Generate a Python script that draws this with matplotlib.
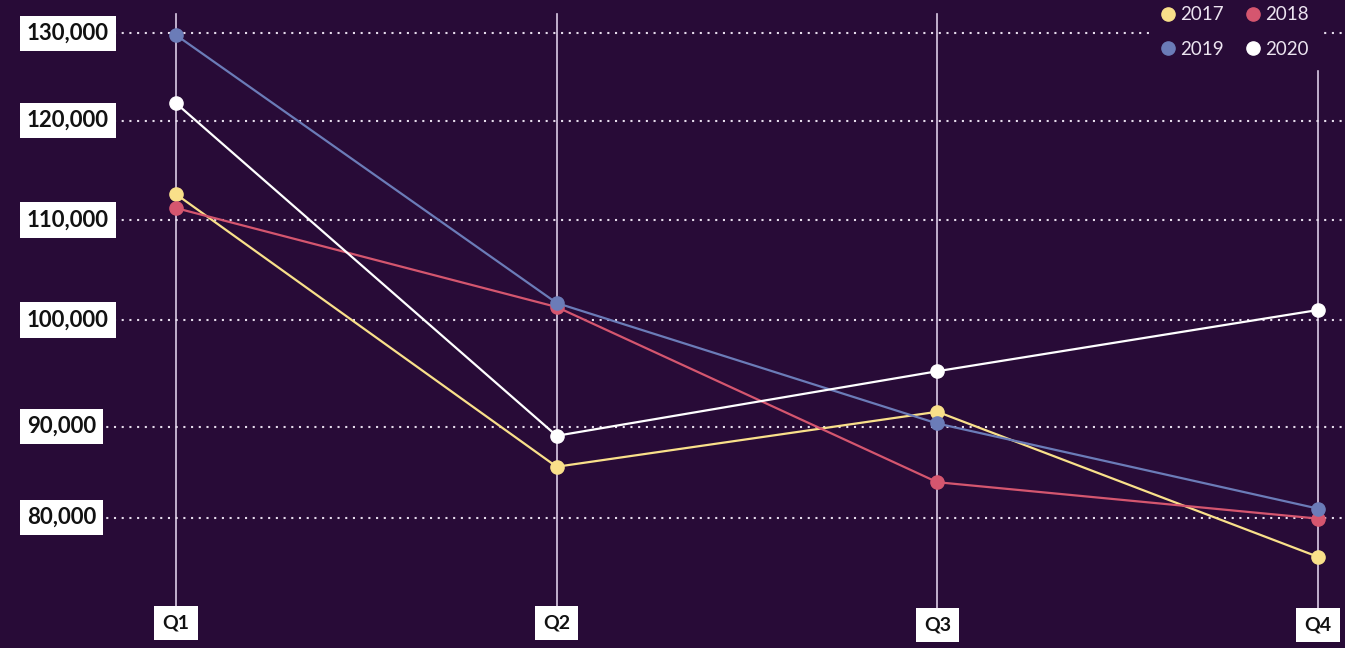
import numpy as np
import matplotlib
matplotlib.use('Agg')
import matplotlib.pyplot as plt
from matplotlib.lines import Line2D
from matplotlib.transforms import blended_transform_factory

# ---------------- data ----------------
quarters = ['Q1', 'Q2', 'Q3', 'Q4']
years = ['2017', '2018', '2019', '2020']
v2017 = [112600, 85600, 91400, 75700]
v2018 = [111200, 101300, 83900, 79900]
v2019 = [129800, 101700, 90300, 81000]
v2020 = [122000, 89000, 95200, 101000]
ytick_values = [80000, 90000, 100000, 110000, 120000, 130000]
ytick_labels = ['80,000', '90,000', '100,000', '110,000', '120,000', '130,000']

series = [v2017, v2018, v2019, v2020]
colors = ['#f9e08a', '#d5566f', '#6b7cb8', '#ffffff']
BG = '#280b37'
LINE = '#dccce6'

plt.rcParams['font.family'] = ['Lato', 'DejaVu Sans']

# the reference axis is not evenly spaced: piecewise-linear scale through the ticks
knot_v = np.array([60000, 80000, 90000, 100000, 110000, 120000, 130000, 150000], float)
knot_u = np.array([-51.7, 130.3, 221.3, 328.0, 428.0, 527.3, 614.7, 789.5])


def fwd(v):
    return np.interp(v, knot_v, knot_u)


def inv(u):
    return np.interp(u, knot_u, knot_v)


W, H = 1345, 648
fig = plt.figure(figsize=(W / 100, H / 100), dpi=100, facecolor=BG)
ax = fig.add_axes([0, 0, 1, 1], facecolor=BG)
ax.set_yscale('function', functions=(fwd, inv))
step = (1318 - 176) / 3
ax.set_xlim(-176 / step, 3 + (W - 1318) / step)
ax.set_ylim(inv(0), inv(H))
ax.set_axis_off()

x = np.arange(len(quarters))

# vertical quarter lines
vtop = [14, 14, 14, 66]
vbot = [607, 607, 609, 609]
for i in range(len(quarters)):
    ax.axvline(x[i], ymin=1 - vbot[i] / H, ymax=1 - vtop[i] / H, color=LINE, lw=1.2, zorder=1)

# dotted horizontal gridlines
for v in ytick_values:
    ax.axhline(v, xmin=60 / W, xmax=1, color='#e6dcec', lw=1.5, ls=(0, (1, 2.7)),
               dash_capstyle='butt', zorder=1)

# series
for vals, c in zip(series, colors):
    ax.plot(x, vals, color=c, lw=1.6, marker='o', ms=9.5, mfc=c, mec=c, zorder=3)

# y labels in white boxes
tr = blended_transform_factory(ax.transAxes, ax.transData)
for v, lab in zip(ytick_values, ytick_labels):
    ax.text(27 / W, v, lab, transform=tr, ha='left', va='center', fontsize=16,
            fontweight='bold', color='#111111', zorder=5,
            bbox=dict(boxstyle='square,pad=0.32', fc='white', ec='none'))

# quarter labels
qy = [623, 623, 625, 625]
trq = blended_transform_factory(ax.transData, ax.transAxes)
for i, q in enumerate(quarters):
    ax.text(x[i], 1 - qy[i] / H, q, transform=trq, ha='center', va='center', fontsize=14,
            fontweight='bold', color='#111111', zorder=5,
            bbox=dict(boxstyle='square,pad=0.42', fc='white', ec='none'))

# legend (2 x 2, row-wise order)
order = [0, 2, 1, 3]
handles = [Line2D([], [], ls='none', marker='o', ms=9.5, mfc=colors[k], mec=colors[k]) for k in order]
labels = [years[k] for k in order]
leg = ax.legend(handles, labels, ncol=2, loc='upper right',
                bbox_to_anchor=(1320 / W, 1.008), frameon=True, facecolor=BG, edgecolor=BG,
                framealpha=1, fontsize=13.5, labelcolor='#ece4f0', handlelength=0.7,
                handletextpad=0.3, columnspacing=1.2, labelspacing=0.95, borderpad=0.6,
                borderaxespad=0, fancybox=False)
leg.set_zorder(6)

fig.savefig('out.png', dpi=100, facecolor=BG)
